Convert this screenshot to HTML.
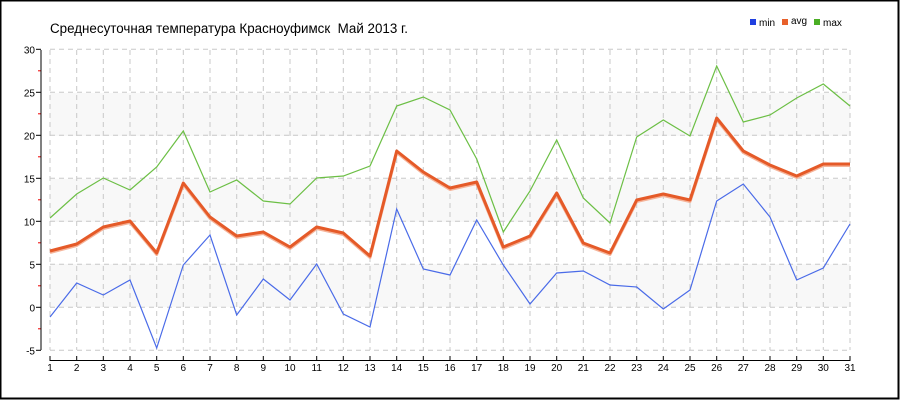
<!DOCTYPE html>
<html><head><meta charset="utf-8"><style>
html,body{margin:0;padding:0;background:#fff}
svg{display:block}
text{font-family:"Liberation Sans","DejaVu Sans",sans-serif}
</style></head><body>
<svg width="900" height="400" xmlns="http://www.w3.org/2000/svg">
<rect x="0.5" y="0.5" width="898" height="398" fill="#fff" stroke="#000" stroke-width="2"/>
<text x="50" y="33" font-size="13.5" fill="#000" textLength="358" lengthAdjust="spacingAndGlyphs">Среднесуточная температура Красноуфимск &#160;Май 2013 г.</text>
<rect x="750" y="19" width="6" height="6" fill="#1f3fe0"/><text x="759" y="26" font-size="10">min</text>
<rect x="782" y="19" width="6" height="6" fill="#e8602a"/><text x="791" y="24" font-size="10">avg</text>
<rect x="814" y="19" width="6" height="6" fill="#4aae24"/><text x="823" y="26" font-size="10">max</text>
<g fill="#f8f8f8">
<rect x="50" y="93" width="800" height="43"/>
<rect x="50" y="179" width="800" height="43"/>
<rect x="50" y="264" width="800" height="43"/>
</g>
<g id="grid" stroke="#c8c8c8" stroke-dasharray="5,4" stroke-width="1"></g>
<g id="axes"></g>
<polyline id="avg2" fill="none" stroke="#f5b49a" stroke-width="3" stroke-linejoin="round" transform="translate(0,1.5)"/>
<polyline id="avg" fill="none" stroke="#e55a28" stroke-width="3" stroke-linejoin="round"/>
<polyline id="mx" fill="none" stroke="#6cbf45" stroke-width="1.2"/>
<polyline id="mn" fill="none" stroke="#4a6be8" stroke-width="1.2"/>
</svg>
<script>
var ns="http://www.w3.org/2000/svg";
function X(d){return 50+(d-1)*800/30;}
var mn=[317,283,295,280,348,265,235,315,279,300,264,314,327,209,269,275,220,265,304,273,271,285,287,309,290,201,184,217,280,268,224];
var av=[251,244,227,221,253,183,217,236,232,247,227,233,256,151,172,188,182,247,236,193,243,253,200,194,200,118,151,165,176,164,164];
var mx=[218,194,178,190,167,131,192,180,201,204,178,176,166,106,97,110,159,232,191,140,198,223,137,120,136,66,122,115,98,84,106];
function pts(a){return a.map(function(y,i){return X(i+1).toFixed(1)+","+y}).join(" ");}
document.getElementById("mn").setAttribute("points",pts(mn));
document.getElementById("mx").setAttribute("points",pts(mx));
document.getElementById("avg").setAttribute("points",pts(av));
document.getElementById("avg2").setAttribute("points",pts(av));
var g=document.getElementById("grid"),ax=document.getElementById("axes");
function el(p,tag,at,txt){var e=document.createElementNS(ns,tag);for(var k in at)e.setAttribute(k,at[k]);if(txt)e.textContent=txt;p.appendChild(e);return e;}
for(var d=1;d<=31;d++){var x=X(d).toFixed(1);
 el(g,"line",{x1:x,x2:x,y1:50,y2:350});
 el(ax,"line",{x1:x,x2:x,y1:356,y2:361,stroke:"#000"});
 el(ax,"text",{x:x,y:371,"font-size":"10","text-anchor":"middle"},""+d);}
for(var v=-5;v<=30;v+=5){var y=(307.3-v*8.6).toFixed(1);
 el(g,"line",{x1:50,x2:850,y1:y,y2:y});
 el(ax,"line",{x1:36,x2:41,y1:y,y2:y,stroke:"#000"});
 el(ax,"text",{x:35,y:+y+4,"font-size":"10","text-anchor":"end"},""+v);
 if(v<30){var y2=(307.3-(v+2.5)*8.6).toFixed(1);el(ax,"line",{x1:38,x2:41,y1:y2,y2:y2,stroke:"#e00"});}}
el(ax,"line",{x1:41,x2:41,y1:50,y2:350,stroke:"#000"});
el(ax,"line",{x1:50,x2:850,y1:360.5,y2:360.5,stroke:"#000"});
</script>
</body></html>
